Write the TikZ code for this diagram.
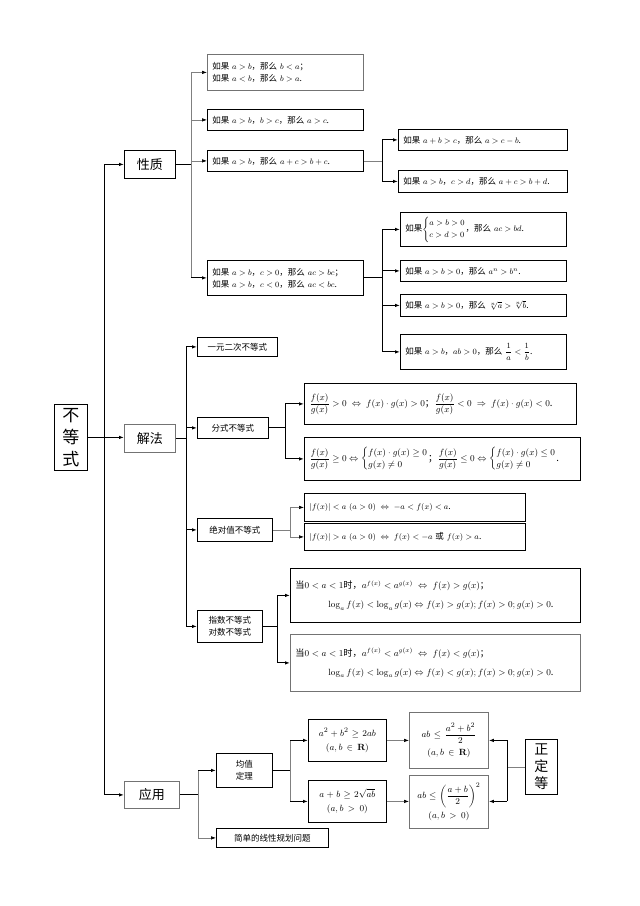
\documentclass[tikz,border=0pt]{standalone}
\usepackage{amsmath,amssymb}
\usepackage[no-math]{fontspec}
\setmainfont{Noto Sans CJK SC}
\usetikzlibrary{arrows.meta}
\tikzset{
  bx/.style={draw=black, line width=0.8pt, inner xsep=5pt, inner ysep=1pt, anchor=north west,
             font=\fontsize{8.5}{12}\selectfont},
  gbx/.style={bx, draw=black!55},
  lb/.style={align=left},
  cb/.style={align=center},
  big/.style={font=\fontsize{13}{16}\selectfont, align=center},
  ln/.style={line width=0.9pt, black},
  gln/.style={line width=0.6pt, black!50},
  ar/.style={ln, -{Latex[length=5pt,width=3.5pt,color=black]}},
  gar/.style={gln, -{Latex[length=5pt,width=3.5pt,color=black]}},
}
\begin{document}
\begin{tikzpicture}[x=1pt,y=-1pt]
\fill[white] (0,0) rectangle (640,906);
\useasboundingbox (0,0) rectangle (640,906);

% root
\node[bx, minimum width=33pt, minimum height=66pt, inner xsep=0pt, align=center,
      font=\fontsize{17}{22}\selectfont] (root) at (54,404) {不\\等\\式};

% level 1
\node[bx, big, minimum width=51pt, minimum height=28pt] (xz) at (124,150) {性质};
\node[gbx, big, minimum width=51pt, minimum height=28pt] (jf) at (124,424) {解法};
\node[gbx, big, minimum width=55pt, minimum height=27pt] (yy) at (124,781) {应用};

% properties
\node[gbx, lb, text width=146pt, minimum height=36pt] (p1) at (207,54)
  {如果 $a>b$，那么 $b<a$；\\如果 $a<b$，那么 $b>a$.};
\node[bx, lb, text width=146pt, minimum height=21pt] (p2) at (207,109)
  {如果 $a>b$，$b>c$，那么 $a>c$.};
\node[bx, lb, text width=146pt, minimum height=21pt] (p3) at (207,150)
  {如果 $a>b$，那么 $a+c>b+c$.};
\node[bx, lb, text width=146pt, minimum height=35pt] (p4) at (207,260)
  {如果 $a>b$，$c>0$，那么 $ac>bc$；\\如果 $a>b$，$c<0$，那么 $ac<bc$.};
\node[bx, lb, text width=159pt, minimum height=21pt] (p3a) at (398,129)
  {如果 $a+b>c$，那么 $a>c-b$.};
\node[bx, lb, text width=159pt, minimum height=22pt] (p3b) at (398,170)
  {如果 $a>b$，$c>d$，那么 $a+c>b+d$.};
\node[bx, lb, text width=156pt, minimum height=34pt] (q1) at (400,212)
  {如果$\left\{\begin{array}{@{}l@{}}a>b>0\\ c>d>0\end{array}\right.$，那么 $ac>bd$.};
\node[bx, lb, text width=156pt, minimum height=21pt] (q2) at (400,260)
  {如果 $a>b>0$，那么 $a^{n}>b^{n}$.};
\node[bx, lb, text width=156pt, minimum height=22pt] (q3) at (400,294)
  {如果 $a>b>0$，那么 $\sqrt[n]{a}>\sqrt[n]{b}$.};
\node[bx, lb, text width=156pt, minimum height=35pt] (q4) at (400,334)
  {如果 $a>b$，$ab>0$，那么 $\dfrac{1}{a}<\dfrac{1}{b}$.};

% solutions
\node[bx, cb, text width=70pt, minimum height=19pt] (s1) at (197,337) {一元二次不等式};
\node[bx, cb, text width=61pt, minimum height=21pt] (s2) at (197,417) {分式不等式};
\node[bx, cb, text width=65pt, minimum height=23pt] (s3) at (197,518) {绝对值不等式};
\node[bx, cb, text width=55pt, minimum height=32pt] (s4) at (197,610) {指数不等式\\对数不等式};

\node[bx, lb, text width=262pt, minimum height=41pt, font=\fontsize{9.5}{12}\selectfont] (f1) at (304,383)
  {$\dfrac{f(x)}{g(x)}>0\;\Leftrightarrow\;f(x)\cdot g(x)>0$；$\dfrac{f(x)}{g(x)}<0\;\Rightarrow\;f(x)\cdot g(x)<0$.};
\node[bx, lb, text width=266pt, minimum height=43pt, font=\fontsize{9.5}{12}\selectfont] (f2) at (304,437)
  {$\dfrac{f(x)}{g(x)}\geq0\Leftrightarrow\left\{\begin{array}{@{}l@{}}f(x)\cdot g(x)\geq0\\ g(x)\neq0\end{array}\right.$；$\dfrac{f(x)}{g(x)}\leq0\Leftrightarrow\left\{\begin{array}{@{}l@{}}f(x)\cdot g(x)\leq0\\ g(x)\neq0\end{array}\right.$.};

\node[bx, lb, text width=211pt, minimum height=28pt] (a1) at (304,493)
  {$\left|f(x)\right|<a\ (a>0)\;\Leftrightarrow\;-a<f(x)<a$.};
\node[bx, lb, text width=211pt, minimum height=27pt] (a2) at (304,523)
  {$\left|f(x)\right|>a\ (a>0)\;\Leftrightarrow\;f(x)<-a$ 或 $f(x)>a$.};

\node[bx, lb, text width=280pt, minimum height=54pt, font=\fontsize{9.2}{12}\selectfont] (e1) at (290,568)
  {当$0<a<1$时，$a^{f(x)}<a^{g(x)}\;\Leftrightarrow\;f(x)>g(x)$；\\[7pt]
   \hspace*{33pt}$\log_a f(x)<\log_a g(x)\Leftrightarrow f(x)>g(x);f(x)>0;g(x)>0$.};
\node[gbx, lb, text width=280pt, minimum height=57pt, font=\fontsize{9.2}{12}\selectfont] (e2) at (290,634)
  {当$0<a<1$时，$a^{f(x)}<a^{g(x)}\;\Leftrightarrow\;f(x)<g(x)$；\\[7pt]
   \hspace*{33pt}$\log_a f(x)<\log_a g(x)\Leftrightarrow f(x)<g(x);f(x)>0;g(x)>0$.};

% applications
\node[bx, cb, text width=46pt, minimum height=34pt] (y1) at (216,753) {均值\\定理};
\node[bx, cb, text width=102pt, minimum height=19pt] (y2) at (216,828) {简单的线性规划问题};
\node[bx, cb, text width=68pt, minimum height=42pt, font=\fontsize{9.5}{14}\selectfont] (m1) at (308,719)
  {$a^{2}+b^{2}\geq2ab$\\$(a,b\in\mathbf{R})$};
\node[bx, cb, text width=68pt, minimum height=42pt, font=\fontsize{9.5}{14}\selectfont] (m2) at (308,780)
  {$a+b\geq2\sqrt{ab}$\\$(a,b>0)$};
\node[gbx, cb, text width=69pt, minimum height=56pt, font=\fontsize{9.5}{14}\selectfont] (n1) at (409,712)
  {$ab\leq\dfrac{a^{2}+b^{2}}{2}$\\[4pt]$(a,b\in\mathbf{R})$};
\node[gbx, cb, text width=69pt, minimum height=53pt, font=\fontsize{9.5}{14}\selectfont] (n2) at (409,775)
  {$ab\leq\left(\dfrac{a+b}{2}\right)^{2}$\\[3pt]$(a,b>0)$};
\node[bx, minimum width=32pt, minimum height=55pt, inner xsep=0pt, align=center,
      font=\fontsize{14}{17}\selectfont] (zd) at (525,739) {正\\定\\等};

% junction columns
\coordinate (cm) at (104,0);
\coordinate (ca) at (191,0);
\coordinate (cb) at (382,0);
\coordinate (cc) at (186,0);
\coordinate (cd) at (285,0);
\coordinate (ce) at (290,0);
\coordinate (cf) at (277,0);
\coordinate (cg) at (198,0);
\coordinate (ch) at (290,0);
\coordinate (ck) at (507,0);

% main
\draw[ln] (cm |- xz) -- (cm |- yy);
\draw[ar] (cm |- xz) -- (xz.west);
\draw[ar] (cm |- yy) -- (yy.west);
\draw[ar] (root.east) -- (root.east -| jf.west);

% 性质
\draw[ln] (xz.east) -- (ca |- xz);
\draw[gln] (ca |- p1) -- (ca |- p4);
\draw[gar] (ca |- p1) -- (p1.west);
\draw[gar] (ca |- p2) -- (p2.west);
\draw[gar] (ca |- p3) -- (p3.west);
\draw[ar] (ca |- p4) -- (p4.west);
\draw[gln] (p3.east) -- (cb |- p3);
\draw[ln] (cb |- p3a) -- (cb |- p3b);
\draw[ar] (cb |- p3a) -- (p3a.west);
\draw[ar] (cb |- p3b) -- (p3b.west);
\draw[ln] (p4.east) -- (cb |- p4);
\draw[ln] (cb |- q1) -- (cb |- q4);
\draw[ar] (cb |- q1) -- (q1.west);
\draw[ar] (cb |- q2) -- (q2.west);
\draw[ar] (cb |- q3) -- (q3.west);
\draw[ar] (cb |- q4) -- (q4.west);

% 解法
\draw[ln] (jf.east) -- (cc |- jf);
\draw[ln] (cc |- s1) -- (cc |- s4);
\draw[ar] (cc |- s1) -- (s1.west);
\draw[ar] (cc |- s2) -- (s2.west);
\draw[ar] (cc |- s3) -- (s3.west);
\draw[ar] (cc |- s4) -- (s4.west);
\draw[ln] (s2.east) -- (cd |- s2);
\draw[ln] (cd |- f1) -- (cd |- f2);
\draw[ar] (cd |- f1) -- (f1.west);
\draw[ar] (cd |- f2) -- (f2.west);
\draw[gln] (s3.east) -- (ce |- s3);
\draw[gln] (ce |- a1) -- (ce |- a2);
\draw[gar] (ce |- a1) -- (a1.west);
\draw[gar] (ce |- a2) -- (a2.west);
\draw[ln] (s4.east) -- (cf |- s4);
\draw[ln] (cf |- e1) -- (cf |- e2);
\draw[ar] (cf |- e1) -- (e1.west);
\draw[ar] (cf |- e2) -- (e2.west);

% 应用
\draw[ln] (yy.east) -- (cg |- yy);
\draw[gln] (cg |- y1) -- (cg |- y2);
\draw[ar] (cg |- y1) -- (y1.west);
\draw[gar] (cg |- y2) -- (y2.west);
\draw[ln] (y1.east) -- (ch |- y1);
\draw[gln] (ch |- m1) -- (ch |- m2);
\draw[ar] (ch |- m1) -- (m1.west);
\draw[ar] (ch |- m2) -- (m2.west);
\draw[gar] (m1.east) -- (m1.east -| n1.west);
\draw[gar] (m2.east) -- (m2.east -| n2.west);
\draw[gln] (zd.west) -- (ck |- zd);
\draw[ln] (ck |- m1) -- (ck |- m2);
\draw[ar] (ck |- m1) -- (ck |- m1 -| n1.east);
\draw[ar] (ck |- m2) -- (ck |- m2 -| n2.east);
\end{tikzpicture}
\end{document}
